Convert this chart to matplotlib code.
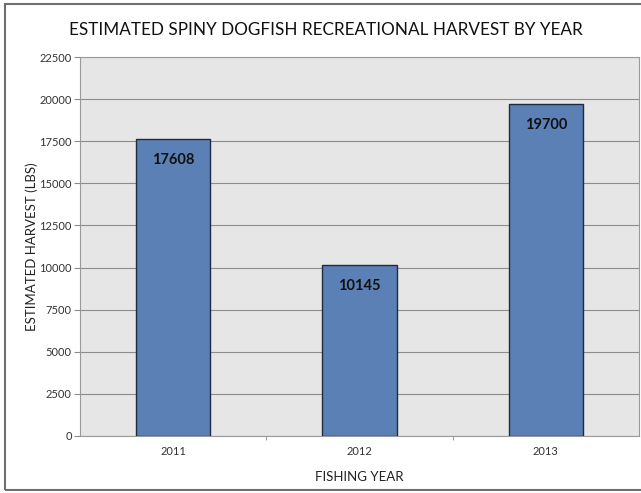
import matplotlib
matplotlib.use("Agg")
import matplotlib.pyplot as plt
from matplotlib.patches import Rectangle

# data
years = ["2011", "2012", "2013"]
harvest = [17608, 10145, 19700]
yticks = [0, 2500, 5000, 7500, 10000, 12500, 15000, 17500, 20000, 22500]

plt.rcParams['font.family'] = ['Lato', 'DejaVu Sans']

fig = plt.figure(figsize=(6.41, 4.93), dpi=100)
ax = fig.add_axes([80 / 641, 1 - 436 / 493, 559 / 641, 379 / 493])

# outer chart frame
fig.patches.append(Rectangle((5 / 641, 1 - 490 / 493), 1.0, 486 / 493,
                             transform=fig.transFigure, fill=False,
                             edgecolor="#6f6f6f", linewidth=1.5))

ax.set_facecolor("#e6e6e6")
x = range(len(years))
bars = ax.bar(x, harvest, width=0.40, color="#5b80b6", edgecolor="#1e2a40",
              linewidth=1.0, zorder=3)

for xi, v in zip(x, harvest):
    ax.annotate(str(v), (xi, v), xytext=(0, -15), textcoords="offset points",
                ha="center", va="center", fontsize=10.5, fontweight="bold",
                color="#111111", zorder=4)

ax.set_xlim(-0.5, 2.5)
ax.set_ylim(0, 22500)
ax.set_yticks(yticks)
ax.set_yticklabels([str(t) for t in yticks], fontsize=8, color="#333333")
ax.yaxis.grid(True, color="#8c8c8c", linewidth=0.8, zorder=0)
ax.tick_params(axis="y", length=4, color="#8c8c8c", pad=2)

ax.set_xticks(list(x))
ax.set_xticklabels(years, fontsize=8, color="#333333")
ax.set_xticks([0.5, 1.5], minor=True)
ax.tick_params(axis="x", which="major", length=0, pad=7)
ax.tick_params(axis="x", which="minor", length=3, color="#8c8c8c")

for s in ax.spines.values():
    s.set_color("#9a9a9a")
    s.set_linewidth(0.8)

ax.set_xlabel("FISHING YEAR", fontsize=9.5, color="#222222", labelpad=10)
ax.set_ylabel("ESTIMATED HARVEST (LBS)", fontsize=9.5, color="#222222",
              va="center")
ax.yaxis.set_label_coords((32 - 80) / 559, 0.5)
fig.text(326 / 641, 1 - 30 / 493, "ESTIMATED SPINY DOGFISH RECREATIONAL HARVEST BY YEAR",
         ha="center", va="center", fontsize=12.3, color="#111111")

fig.savefig("out.png", dpi=100)
